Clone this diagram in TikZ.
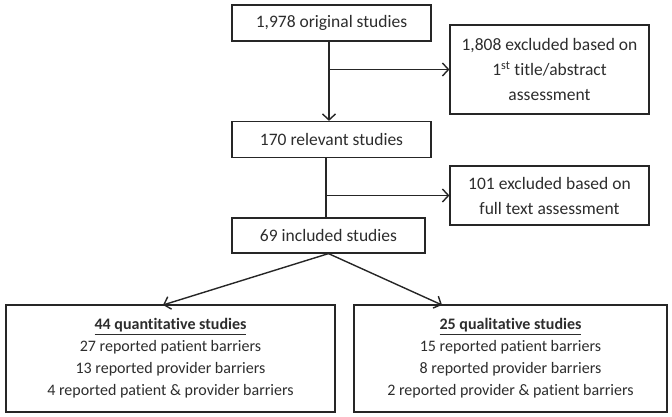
\documentclass[tikz,border=0pt]{standalone}
\usepackage{fontspec}
\setmainfont{Carlito}[Ligatures=NoCommon]
\usetikzlibrary{arrows.meta}
\definecolor{txt}{RGB}{45,45,45}
\begin{document}
\begin{tikzpicture}[x=1pt,y=-1pt,
  box/.style={draw=black!85, line width=1.2pt, fill=white, align=center, inner sep=0pt,
    text=txt, font=\fontsize{17.5}{25}\selectfont},
  conn/.style={draw=black!85, line width=1.4pt},
  arr/.style={conn, -{Straight Barb[length=6pt,width=13pt,line width=1.4pt]}}]
\useasboundingbox (0,0) rectangle (672,417);
\node[box, minimum width=199, minimum height=36] (b1) at (331.5,23) {1,978 original studies};
\node[box, minimum width=199, minimum height=89] (b2) at (549.5,69.5) {1,808 excluded based on\\1\textsuperscript{st} title/abstract\\assessment};
\node[box, minimum width=199, minimum height=36] (b3) at (331.5,139.5) {170 relevant studies};
\node[box, minimum width=199, minimum height=59] (b4) at (549.5,195.5) {101 excluded based on\\full text assessment};
\node[box, minimum width=193, minimum height=35] (b5) at (328.5,235.5) {69 included studies};
\node[box, minimum width=329, minimum height=107, font=\fontsize{16}{22}\selectfont] (l) at (170.5,358.5)
  {\underline{\textbf{44 quantitative studies}}\\27 reported patient barriers\\13 reported provider barriers\\4 reported patient \& provider barriers};
\node[box, minimum width=313, minimum height=107, font=\fontsize{16}{22}\selectfont] (r) at (510.5,358.5)
  {\underline{\textbf{25 qualitative studies}}\\15 reported patient barriers\\8 reported provider barriers\\2 reported provider \& patient barriers};
\coordinate (t1) at (329,41);
\coordinate (t2) at (326,157.5);
\coordinate (lt) at (163,305);
\coordinate (rt) at (442,305);
\draw[arr] (t1) -- (t1 |- b3.north);
\draw[arr] (t1 |- b2.west) -- (b2.west);
\draw[conn] (t2) -- (t2 |- b5.north);
\draw[arr] (t2 |- b4.west) -- (b4.west);
\draw[arr] (b5.south) -- (lt);
\draw[arr] (b5.south) -- (rt);
\end{tikzpicture}
\end{document}
